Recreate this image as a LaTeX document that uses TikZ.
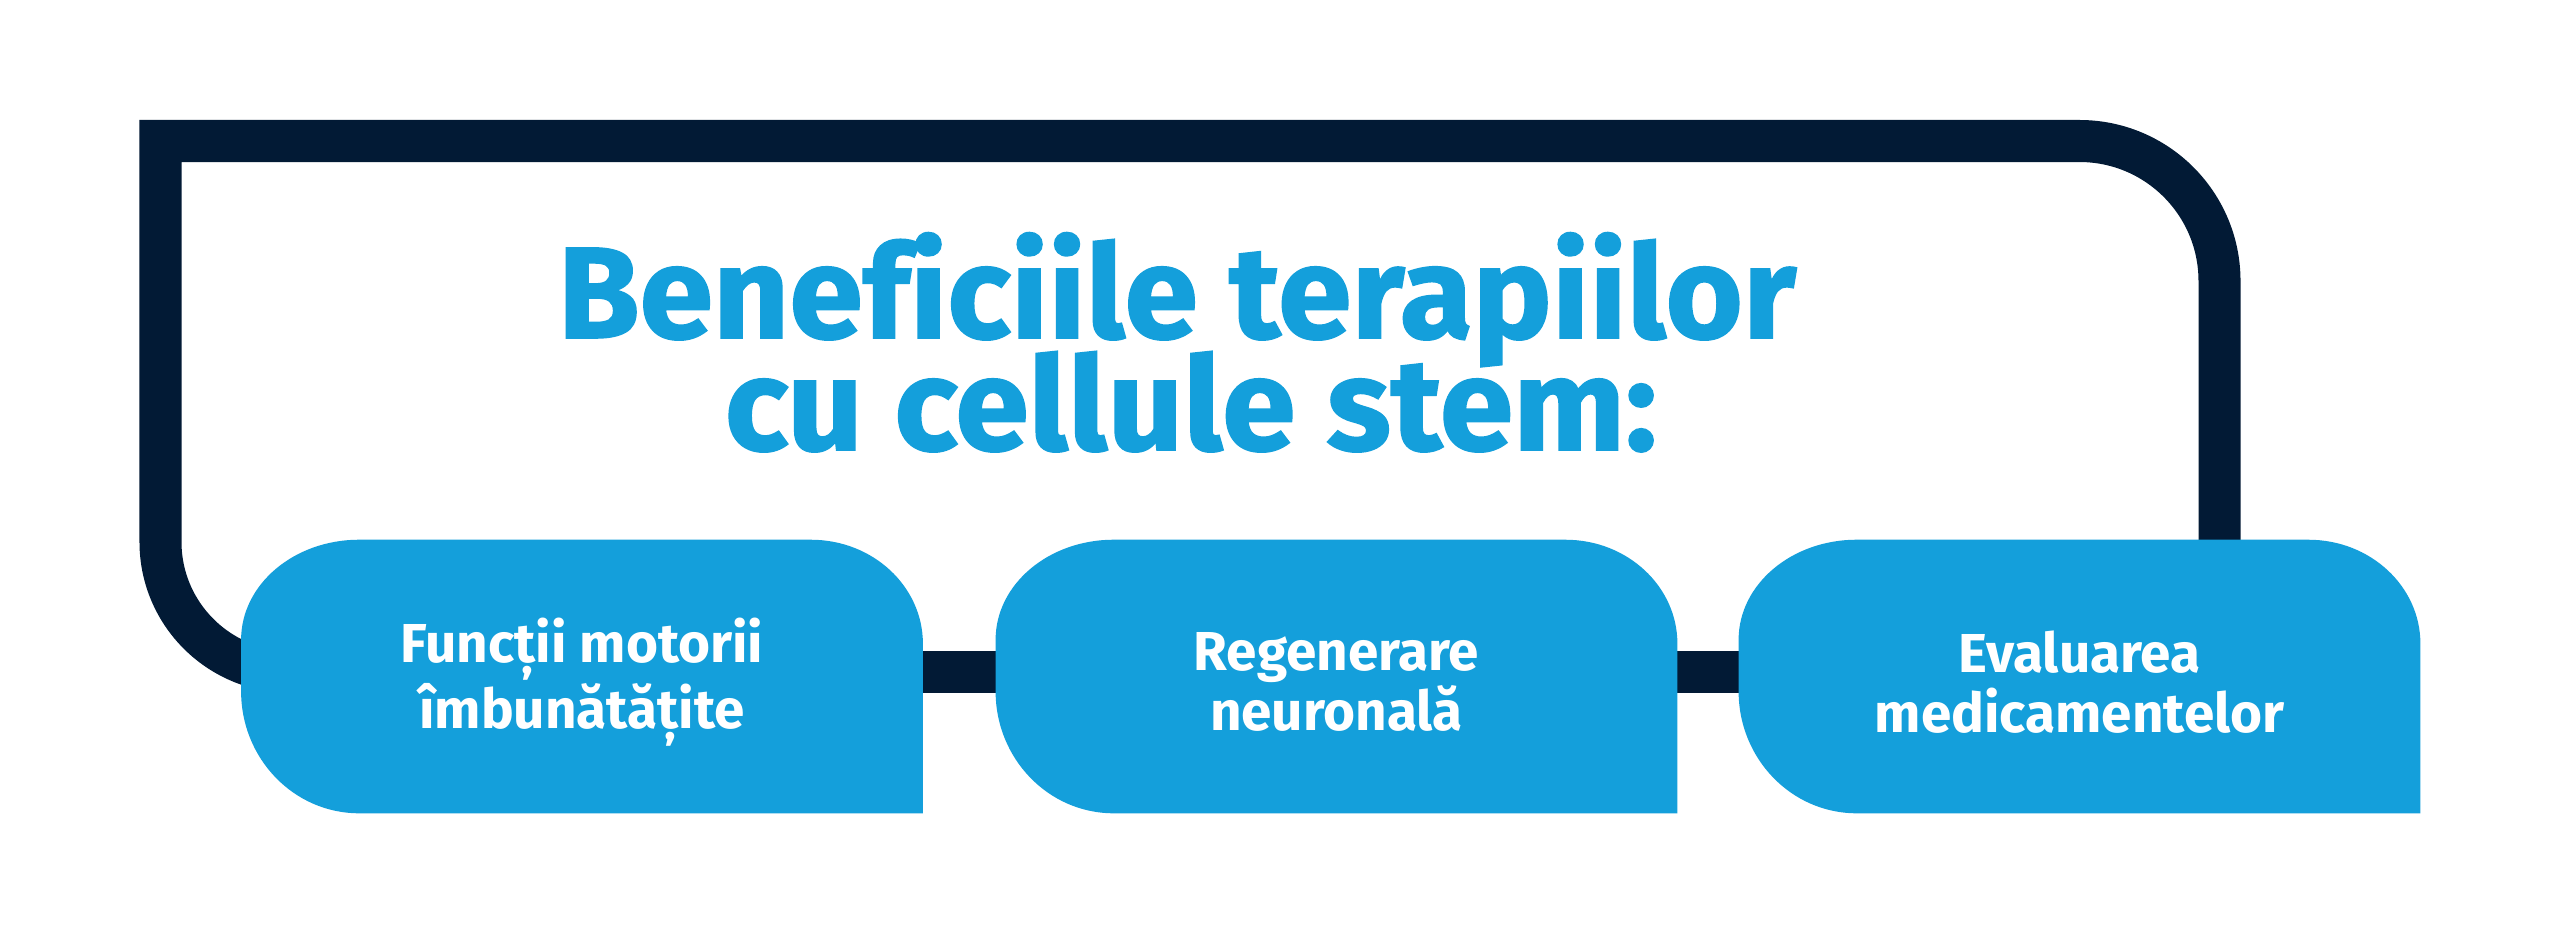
\documentclass[tikz,border=0pt]{standalone}
\usepackage{fontspec}
\setmainfont{Fira Sans}
\newfontfamily\titlefont{Fira Sans Bold}[FakeBold=1.2, FakeStretch=1.02, Ligatures=NoCommon]
\usetikzlibrary{calc,backgrounds}
\definecolor{navy}{HTML}{021A35}
\definecolor{bblue}{HTML}{149FDB}
\tikzset{
  framestroke/.style={draw=navy, line width=0.42cm},
  boxnode/.style={minimum width=6.8cm, minimum height=2.72cm, inner sep=0pt, text=white, align=center,
    font=\bfseries\fontsize{15.6}{17}\selectfont},
  titletext/.style={text=bblue, font=\titlefont\fontsize{37}{40}\selectfont, anchor=base, inner sep=0pt},
  boxfill/.style={fill=bblue}
}
% box shape drawn 5.5px above the node centre (node holds the text)
\newcommand\blobfill[1]{%
  \coordinate (#1-NE) at ($(#1.north east)+(0,-5.5)$);
  \coordinate (#1-NW) at ($(#1.north west)+(0,-5.5)$);
  \coordinate (#1-SW) at ($(#1.south west)+(0,-5.5)$);
  \coordinate (#1-SE) at ($(#1.south east)+(0,-5.5)$);
  \fill[boxfill] (#1-SE) -- ($(#1-NE)+(0,104)$)
    .. controls ($(#1-NE)+(0,46.6)$) and ($(#1-NE)+(-50.1,0)$) .. ($(#1-NE)+(-112,0)$)
    -- ($(#1-NW)+(118,0)$)
    .. controls ($(#1-NW)+(52.8,0)$) and ($(#1-NW)+(0,44.8)$) .. ($(#1-NW)+(0,100)$)
    -- ($(#1-SW)+(0,-122)$)
    .. controls ($(#1-SW)+(0,-54.6)$) and ($(#1-SW)+(52.8,0)$) .. ($(#1-SW)+(118,0)$)
    -- cycle;}
\begin{document}
\begin{tikzpicture}[x=0.01cm,y=-0.01cm]
\useasboundingbox (0,0) rectangle (2560,933);
\node[boxnode] (b1) at (582,682) {Funcții motorii\\îmbunătățite};
\node[boxnode] (b2) at (1336.5,682) {Regenerare\\neuronală};
\node[boxnode] (b3) at (2079.5,682) {Evaluarea\\medicamentelor};
\node[titletext, text depth=0pt] (t1) at (1177,338) {Beneficiile terapiilor};
\node[titletext] (t2) at (1191,450) {cu cellule stem:};
\begin{scope}[on background layer]
  \fill[white] (0,0) rectangle (2560,933);
  \coordinate (fa) at (291,672);
  \coordinate (fk1) at (160.5,672);
  \coordinate (fb) at (160.5,542);
  \coordinate (fc) at (160.5,141);
  \coordinate (fd) at (2079.5,141);
  \coordinate (fk2) at (2219.5,141);
  \coordinate (fe) at (2219.5,281);
  \coordinate (ff) at (2219.5,600);
  \draw[framestroke] (fa) .. controls ($(fa)!0.5523!(fk1)$) and ($(fb)!0.5523!(fk1)$) .. (fb)
     -- (fc) -- (fd) .. controls ($(fd)!0.5523!(fk2)$) and ($(fe)!0.5523!(fk2)$) .. (fe) -- (ff);
  \draw[framestroke] ($(b1.center)+(0,-10)$) -- ($(b2.center)+(0,-10)$);
  \draw[framestroke] ($(b2.center)+(0,-10)$) -- ($(b3.center)+(0,-10)$);
  \blobfill{b1}
  \blobfill{b2}
  \blobfill{b3}
\end{scope}
\end{tikzpicture}
\end{document}
